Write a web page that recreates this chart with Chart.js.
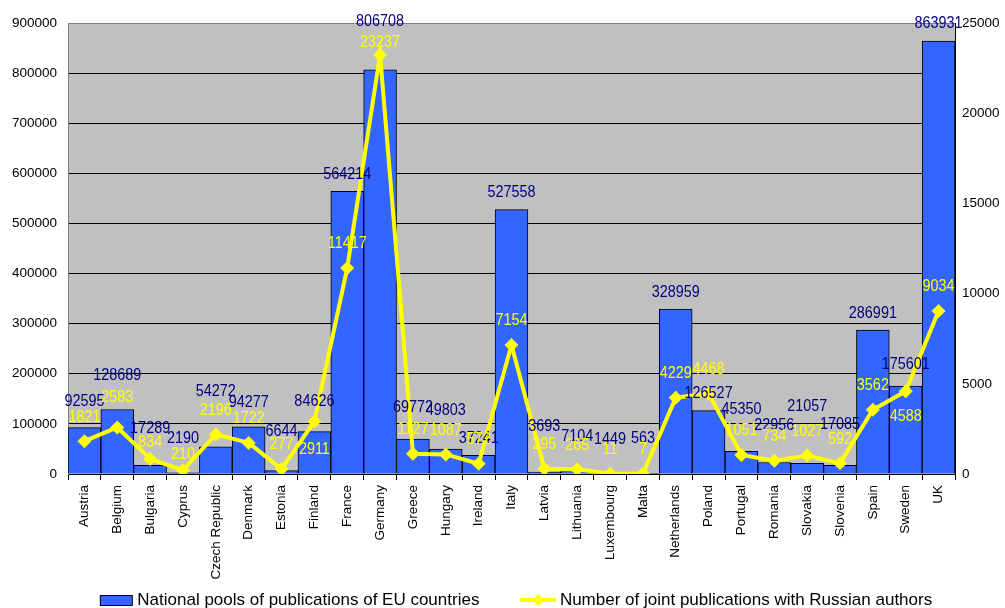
<!DOCTYPE html>
<html>
<head>
<meta charset="utf-8">
<script src="https://cdn.jsdelivr.net/npm/chart.js@4.4.0/dist/chart.umd.min.js"></script>
<style>
  html, body { margin: 0; padding: 0; background: #fff; }
</style>
</head>
<body>
<canvas id="myChart" width="1005" height="608"></canvas>
<script>
var countries = ['Austria', 'Belgium', 'Bulgaria', 'Cyprus', 'Czech Republic', 'Denmark', 'Estonia',
  'Finland', 'France', 'Germany', 'Greece', 'Hungary', 'Ireland', 'Italy', 'Latvia', 'Lithuania',
  'Luxembourg', 'Malta', 'Netherlands', 'Poland', 'Portugal', 'Romania', 'Slovakia', 'Slovenia',
  'Spain', 'Sweden', 'UK'];
// bars, left axis
var nationalPools = [92595, 128689, 17289, 2190, 54272, 94277, 6644, 84626, 564214, 806708, 69772,
  49803, 37241, 527558, 3693, 7104, 1449, 563, 328959, 126527, 45350, 22956, 21057, 17085, 286991,
  175601, 863931];
// line, right axis
var jointWithRussia = [1821, 2583, 834, 210, 2196, 1722, 277, 2911, 11417, 23237, 1127, 1087, 572,
  7154, 295, 265, 11, 7, 4229, 4468, 1051, 734, 1027, 592, 3562, 4588, 9034];
var leftAxis = [0, 900000, 100000];
var rightAxis = [0, 25000, 5000];
var poolsLabel = 'National pools of publications of EU countries';
var jointLabel = 'Number of joint publications with Russian authors';

var barBlue = '#3366ff';
var lineYellow = '#ffff00';

// where the labels were nudged by hand in the original (px above bar top / point)
var barLift = { Austria: 26, Belgium: 34, Bulgaria: 37, Cyprus: 34, 'Czech Republic': 55, Denmark: 24,
  Estonia: 39, Finland: 30, Germany: 48, Greece: 31, Hungary: 38, Latvia: 46, Lithuania: 34,
  Luxembourg: 34, Malta: 35, Portugal: 42, Romania: 37, Slovakia: 57, Slovenia: 41, Sweden: 21 };
var pointLift = { Finland: -28, Sweden: -25, Germany: 12, Belgium: 30, Bulgaria: 16, Cyprus: 16 };

function swatch(kind) {
  var c = document.createElement('canvas');
  c.width = 36; c.height = 14;
  var g = c.getContext('2d');
  if (kind == 'bar') {
    g.fillStyle = barBlue;
    g.fillRect(2, 2, 32, 10);
    g.strokeStyle = '#000';
    g.lineWidth = 1;
    g.strokeRect(2.5, 2.5, 32, 10);
  } else {
    g.strokeStyle = lineYellow;
    g.lineWidth = 4;
    g.beginPath(); g.moveTo(0, 7); g.lineTo(36, 7); g.stroke();
    g.fillStyle = lineYellow;
    g.beginPath(); g.moveTo(18, 1); g.lineTo(24, 7); g.lineTo(18, 13); g.lineTo(12, 7); g.closePath(); g.fill();
  }
  return c;
}

var plotBackground = {
  id: 'plotBackground',
  beforeDraw: function (chart) {
    var a = chart.chartArea;
    chart.ctx.save();
    chart.ctx.fillStyle = '#c0c0c0';
    chart.ctx.fillRect(a.left, a.top, a.right - a.left, a.bottom - a.top);
    chart.ctx.restore();
  }
};

// the legend sits over the bottom of the rotated country names, move it there
var legendSpot = {
  id: 'legendSpot',
  afterLayout: function (chart) {
    var lg = chart.legend;
    var pad = lg.options.labels.padding;
    lg.top = chart.height - 8 - pad - 8.5;
    lg.bottom = chart.height;
    lg.height = lg.bottom - lg.top;
    lg.left += 15;
    lg.right += 15;
  }
};

// narrow text, the original used a condensed face
function narrowText(ctx, txt, x, y) {
  ctx.save();
  ctx.translate(x, y);
  ctx.scale(0.9, 1);
  ctx.fillText(txt, 0, 0);
  ctx.restore();
}

var valueLabels = {
  id: 'valueLabels',
  afterDatasetsDraw: function (chart) {
    var ctx = chart.ctx;
    var bars = chart.getDatasetMeta(0).data;
    var pts = chart.getDatasetMeta(1).data;
    ctx.save();
    ctx.font = '16px "Liberation Sans", Arial, sans-serif';
    ctx.textAlign = 'center';
    ctx.textBaseline = 'middle';
    ctx.fillStyle = '#000080';
    bars.forEach(function (bar, i) {
      var lift = barLift[countries[i]] || 17;
      narrowText(ctx, String(nationalPools[i]), bar.x, bar.y - lift);
    });
    ctx.fillStyle = lineYellow;
    pts.forEach(function (p, i) {
      var lift = pointLift[countries[i]];
      if (lift === undefined) lift = 24;
      narrowText(ctx, String(jointWithRussia[i]), p.x, p.y - lift);
    });
    ctx.restore();
  }
};

Chart.defaults.font.family = '"Liberation Sans", Arial, sans-serif';
Chart.defaults.font.size = 13.5;
Chart.defaults.color = '#000';

function plain(v) { return String(v); }

var ctx = document.getElementById('myChart');
var myChart = new Chart(ctx, {
  type: 'bar',
  data: {
    labels: countries,
    datasets: [
      {
        type: 'bar',
        label: poolsLabel,
        data: nationalPools,
        yAxisID: 'y',
        backgroundColor: barBlue,
        borderColor: '#000',
        borderWidth: 1,
        barPercentage: 1,
        categoryPercentage: 1,
        order: 2
      },
      {
        type: 'line',
        label: jointLabel,
        data: jointWithRussia,
        yAxisID: 'y1',
        borderColor: lineYellow,
        backgroundColor: lineYellow,
        borderWidth: 4,
        pointStyle: 'rectRot',
        pointRadius: 7,
        pointBorderWidth: 0,
        tension: 0,
        fill: false,
        order: 1
      }
    ]
  },
  options: {
    responsive: false,
    animation: false,
    devicePixelRatio: 1,
    layout: { padding: { top: 23, left: 0, right: 0, bottom: 0 } },
    plugins: {
      tooltip: { enabled: false },
      legend: {
        position: 'bottom',
        maxHeight: 1,
        labels: {
          usePointStyle: true,
          pointStyleWidth: 26,
          padding: 46,
          font: { size: 17 },
          color: '#000',
          generateLabels: function () {
            return [
              { text: poolsLabel, pointStyle: swatch('bar'), fillStyle: barBlue, strokeStyle: '#000', lineWidth: 0, hidden: false, datasetIndex: 0 },
              { text: jointLabel, pointStyle: swatch('line'), fillStyle: lineYellow, strokeStyle: lineYellow, lineWidth: 0, hidden: false, datasetIndex: 1 }
            ];
          }
        }
      }
    },
    scales: {
      x: {
        grid: { offset: true, drawOnChartArea: false, tickLength: 6, color: '#000' },
        border: { color: '#000', width: 1 },
        ticks: { minRotation: 90, maxRotation: 90, padding: 5, autoSkip: false },
        afterFit: function (s) { s.height = 133; }
      },
      y: {
        position: 'left',
        min: leftAxis[0],
        max: leftAxis[1],
        ticks: { stepSize: leftAxis[2], padding: 11, callback: plain },
        grid: {
          drawTicks: false,
          color: function (c) { return c.tick && c.tick.value == leftAxis[1] ? '#808080' : '#000'; },
          lineWidth: 1
        },
        border: { color: '#808080', width: 1 },
        afterFit: function (s) { s.width = 68; }
      },
      y1: {
        position: 'right',
        min: rightAxis[0],
        max: rightAxis[1],
        ticks: { stepSize: rightAxis[2], padding: 7, callback: plain },
        grid: { drawOnChartArea: false, drawTicks: false },
        border: { color: '#000', width: 1 },
        afterFit: function (s) { s.width = 50; }
      }
    }
  },
  plugins: [plotBackground, legendSpot, valueLabels]
});
</script>
</body>
</html>
